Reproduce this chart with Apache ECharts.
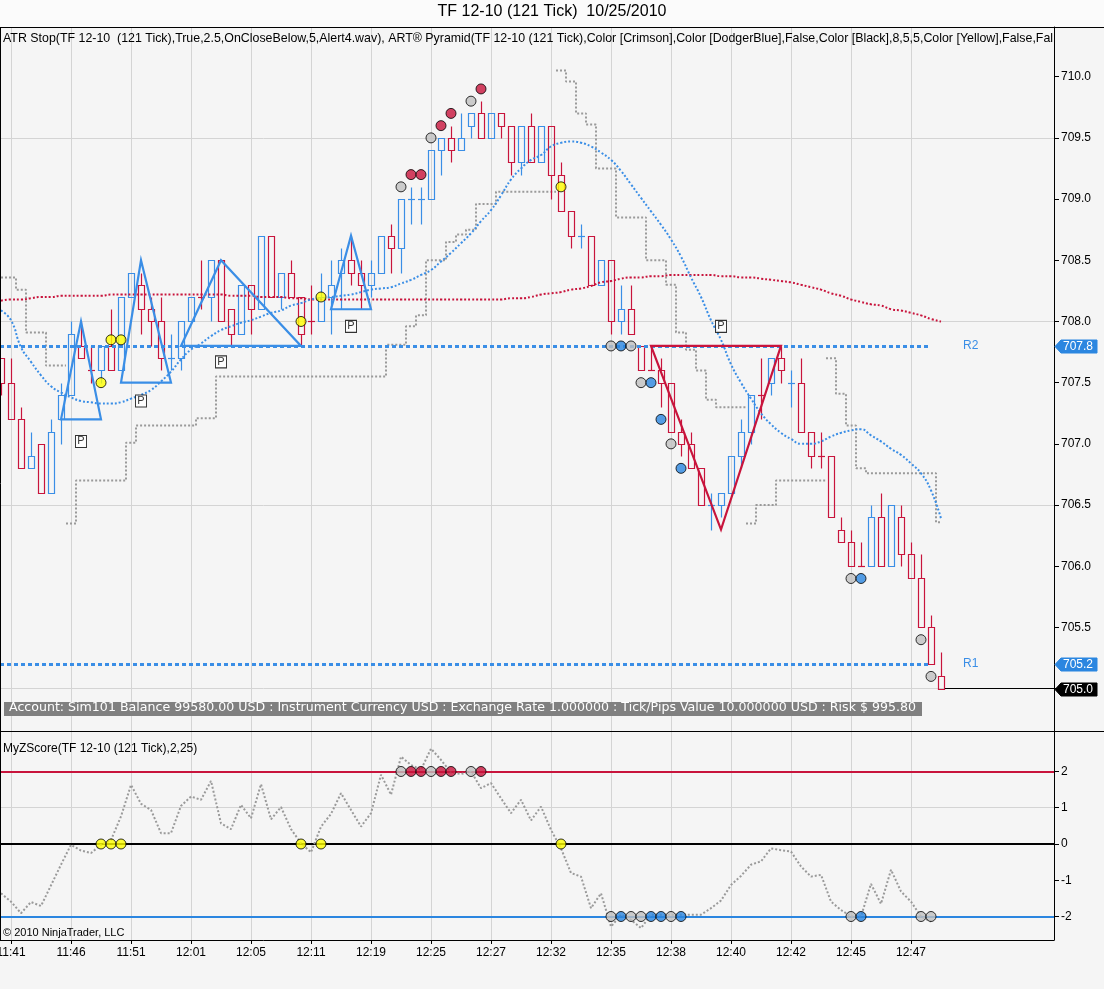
<!DOCTYPE html>
<html><head><meta charset="utf-8">
<script src="https://cdn.jsdelivr.net/npm/echarts@6/dist/echarts.min.js"></script>
<style>html,body{margin:0;padding:0;background:#f5f5f5}#c{width:1104px;height:989px}</style>
</head><body><div id="c"></div><script>
// ---------------- DATA ----------------
const barOpen = [707.7,707.5,707.2,706.8,707.0,706.6,707.2,707.4,707.8,707.6,
707.6,707.8,707.6,708.2,708.3,708.1,708.0,707.7,707.7,708.0,
708.2,708.2,708.5,708.1,707.9,708.3,708.1,708.7,708.2,708.4,
708.2,708.0,708.0,708.2,708.4,708.5,708.4,708.3,708.4,708.7,
708.6,709.0,709.0,709.0,709.4,709.5,709.4,709.6,709.7,709.5,
709.7,709.6,709.3,709.6,709.3,709.6,709.2,708.9,708.7,708.7,
708.3,708.5,708.0,708.1,707.8,707.6,707.6,707.5,707.1,707.0,
706.8,706.5,706.5,706.6,706.9,707.1,707.4,707.5,707.7,707.5,
707.5,707.1,706.9,706.9,706.3,706.2,706.0,706.0,706.4,706.0,
706.4,706.1,705.9,705.5,705.1];
const barHigh = [707.7,707.7,707.3,707.1,707.0,707.2,707.5,708.0,708.0,707.8,
707.8,708.1,708.2,708.4,708.4,708.2,708.2,707.9,708.0,708.2,
708.5,708.5,708.5,708.1,708.3,708.3,708.7,708.7,708.4,708.5,
708.2,708.3,708.4,708.5,708.6,708.7,708.5,708.5,708.7,708.8,
709.0,709.1,709.1,709.4,709.5,709.6,709.7,709.7,709.8,709.7,
709.7,709.6,709.6,709.7,709.6,709.6,709.3,708.9,708.8,708.7,
708.5,708.5,708.3,708.3,707.8,707.8,707.7,707.5,707.2,707.1,
706.8,706.6,706.6,706.9,707.2,707.4,707.7,707.7,707.8,707.6,
707.7,707.1,707.1,706.9,706.4,706.3,706.2,706.5,706.6,706.5,
706.5,706.2,706.1,705.6,705.3];
const barLow = [707.4,707.2,706.8,706.8,706.6,706.6,707.0,707.4,707.7,707.5,
707.5,707.6,707.6,708.2,707.9,707.8,707.6,707.6,707.6,708.0,
708.1,708.0,708.0,707.8,707.9,707.9,708.1,708.2,708.1,708.2,
707.8,707.9,708.0,707.9,708.1,708.3,708.1,708.2,708.4,708.4,
708.4,708.8,708.8,709.0,709.2,709.3,709.4,709.5,709.5,709.5,
709.5,709.2,709.2,709.3,709.3,709.0,708.9,708.6,708.6,708.3,
708.3,707.9,707.9,707.9,707.6,707.6,707.3,707.1,706.9,706.8,
706.5,706.3,706.4,706.6,706.8,707.0,707.2,707.4,707.5,707.3,
707.1,706.8,706.8,706.4,706.2,706.0,706.0,706.0,706.0,706.0,
706.0,705.9,705.5,705.2,705.0];
const barClose = [707.5,707.2,706.8,706.9,706.6,707.1,707.4,707.9,707.7,707.6,
707.8,707.6,708.2,708.4,708.1,708.0,707.7,707.7,708.0,708.2,
708.2,708.5,708.0,707.9,708.3,708.1,708.7,708.2,708.4,708.2,
707.9,708.0,708.2,708.3,708.5,708.4,708.3,708.4,708.7,708.6,
709.0,709.0,709.0,709.4,709.5,709.4,709.5,709.7,709.5,709.7,
709.6,709.3,709.6,709.3,709.6,709.2,708.9,708.7,708.7,708.3,
708.5,708.0,708.1,707.9,707.6,707.6,707.5,707.1,707.0,706.8,
706.5,706.5,706.6,706.9,707.1,707.4,707.4,707.7,707.6,707.5,
707.1,706.9,706.9,706.4,706.2,706.0,706.0,706.4,706.0,706.5,
706.1,705.9,705.5,705.2,705.0];
const upDojiBars = [17,41,42,58,71,79];

const blueAvg = [708.09,708.01,707.79,707.67,707.56,707.47,707.42,707.38,707.35,707.34,
707.33,707.33,707.34,707.37,707.40,707.44,707.51,707.59,707.69,707.77,
707.82,707.88,707.93,707.96,707.99,708.01,708.04,708.07,708.09,708.13,
708.15,708.18,708.19,708.20,708.21,708.22,708.24,708.26,708.27,708.28,
708.31,708.34,708.38,708.42,708.49,708.56,708.64,708.72,708.82,708.91,
709.03,709.16,709.25,709.32,709.36,709.43,709.46,709.47,709.46,709.43,
709.38,709.32,709.23,709.12,709.01,708.90,708.79,708.67,708.53,708.36,
708.20,708.01,707.85,707.65,707.50,707.37,707.25,707.16,707.09,707.04,
707.00,707.00,707.02,707.06,707.09,707.11,707.12,707.07,707.02,706.96,
706.91,706.84,706.76,706.62,706.39];
const redAvg = [708.17,708.18,708.18,708.19,708.20,708.20,708.21,708.21,708.21,708.21,
708.21,708.22,708.22,708.22,708.22,708.22,708.22,708.22,708.22,708.22,
708.22,708.22,708.22,708.21,708.21,708.21,708.20,708.20,708.20,708.19,
708.19,708.18,708.18,708.18,708.18,708.18,708.18,708.18,708.18,708.18,
708.18,708.18,708.18,708.18,708.18,708.18,708.18,708.18,708.18,708.18,
708.18,708.19,708.19,708.20,708.22,708.23,708.24,708.26,708.27,708.29,
708.32,708.33,708.35,708.36,708.36,708.37,708.37,708.38,708.38,708.38,
708.38,708.38,708.37,708.37,708.36,708.36,708.35,708.34,708.33,708.32,
708.30,708.28,708.26,708.23,708.21,708.18,708.16,708.14,708.13,708.10,
708.09,708.07,708.05,708.02,708.00];
const stopAbove = [708.36,708.36,708.26,707.91,707.91,707.64,707.64,null,null,null,
null,null,null,null,null,null,null,null,null,null,
null,null,null,null,null,null,null,null,null,null,
null,null,null,null,null,null,null,null,null,null,
null,null,null,null,null,null,null,null,null,null,
null,null,null,null,null,null,710.05,709.96,709.70,709.61,
709.25,709.25,708.85,708.85,708.85,708.50,708.50,708.30,707.91,707.77,
707.60,707.36,707.30,707.30,707.30,null,null,null,null,null,
null,null,null,707.70,707.41,707.15,706.80,706.76,706.76,706.76,
706.76,706.76,706.76,706.76,706.36];
const stopBelow = [null,null,null,null,null,null,null,706.35,706.70,706.70,
706.70,706.70,706.70,707.01,707.15,707.15,707.15,707.15,707.15,707.15,
707.21,707.21,707.55,707.55,707.55,707.55,707.55,707.55,707.55,707.55,
707.55,707.55,707.55,707.55,707.55,707.55,707.55,707.55,707.55,707.81,
707.81,707.96,708.05,708.50,708.50,708.65,708.71,708.75,708.96,708.96,
709.06,709.06,709.06,709.06,709.06,709.06,null,null,null,null,
null,null,null,null,null,null,null,null,null,null,
null,null,null,null,null,706.35,706.50,706.50,706.70,706.70,
706.70,706.70,706.70,null,null,null,null,null,null,null,
null,null,null,null,null];
const zScore = [-1.36,-1.59,-1.91,-1.60,-1.71,-1.14,-0.57,-0.02,-0.18,-0.25,
-0.02,0.11,0.76,1.63,1.11,0.94,0.30,0.30,1.05,1.31,
1.22,1.74,0.57,0.41,1.08,0.71,1.65,0.68,1.02,0.41,
0.02,-0.23,0.48,0.83,1.40,0.94,0.48,0.85,1.91,1.36,
2.41,2.18,2.05,2.63,2.32,1.97,1.93,2.00,1.54,1.68,
1.26,0.85,1.22,0.65,1.03,0.39,-0.12,-0.80,-0.90,-1.77,
-1.36,-2.28,-1.95,-2.09,-2.32,-1.95,-1.95,-1.95,-1.95,-1.95,
-1.95,-1.77,-1.56,-1.13,-0.88,-0.57,-0.48,-0.12,-0.17,-0.21,
-0.62,-0.90,-0.85,-1.59,-1.82,-2.00,-2.00,-1.10,-1.65,-0.71,
-1.31,-1.59,-2.00,-2.14,null];

// signal dots: 0 yellow, 1 gray, 2 crimson, 3 blue
const sigBars   = [10,11,12,30,32,40,41,42,43,44,45,47,48,56,61,62,63,64,65,66,67,68,85,86,92,93];
const sigPrices = [707.5,707.85,707.85,708.0,708.2,709.1,709.2,709.2,709.5,709.6,709.7,709.8,709.9,709.1,707.8,707.8,707.8,707.5,707.5,707.2,707.0,706.8,705.9,705.9,705.4,705.1];
const sigKinds  = [0,0,0,0,0,1,2,2,1,2,2,1,2,0,1,3,1,1,3,3,1,3,1,3,1,1];
const sigZLevel = [0,0,0,0,0,2,2,2,2,2,2,2,2,0,-2,-2,-2,-2,-2,-2,-2,-2,-2,-2,-2,-2];

// pyramids: left base, apex, right base
const triLeftBar   = [6,12,18,33,65];
const triBasePrice = [707.2,707.5,707.8,708.1,707.8];
const triApexBar   = [8,14,22,35,72];
const triApexPrice = [708.0,708.5,708.5,708.7,706.3];
const triRightBar  = [10,17,30,37,78];
const triKind      = [0,0,0,0,1];
const pBars   = [8,14,22,35,72];
const pPrices = [707.02,707.35,707.67,707.96,707.96];

const levelR2 = 707.8, levelR1 = 705.2, lastPrice = 705.0, levelEndBar = 93;
const tagPrices = [707.8,705.2,705.0];
const tagKinds  = [0,0,1];

const tickBars   = [1,7,13,19,25,31,37,43,49,55,61,67,73,79,85,91];
const tickLabels = ['11:41','11:46','11:51','12:01','12:05','12:11','12:19','12:25','12:27','12:32','12:35','12:38','12:40','12:42','12:45','12:47'];
const priceTicks = [705.0,705.5,706.0,706.5,707.0,707.5,708.0,708.5,709.0,709.5,710.0];
const priceGrid  = [705.0,706.5,708.0,709.5];
const zTicks = [-2,-1,0,1,2];
const zGrid = [1];

// ---------------- STYLE ----------------
const BLUE = '#3a8ee6', RED = '#c8143c', GRAY = '#9a9a9a', GRID = '#d4d4d4';
const DOT = ['#ffff00','#c0c0c0','#c8143c','#2b86e0'];
const FONT = "'Liberation Sans', Arial, sans-serif";
const WIDEFONT = "'DejaVu Sans', Verdana, sans-serif";
const XMIN = -0.1, XMAX = 105.3;

const candleData = barOpen.map((o,i)=>{
  const c = barClose[i];
  const up = c > o ? 1 : (c < o ? 0 : (upDojiBars.indexOf(i) >= 0 ? 1 : 0));
  return [i, o, barHigh[i], barLow[i], c, up];
});

function renderCandle(params, api){
  const i=api.value(0), o=api.value(1), h=api.value(2), l=api.value(3), c=api.value(4), up=api.value(5);
  const pO=api.coord([i,o]), pC=api.coord([i,c]), pH=api.coord([i,h]), pL=api.coord([i,l]);
  const x=Math.round(pO[0])+0.5;
  const top=Math.round(Math.min(pO[1],pC[1]))+0.5, bot=Math.round(Math.max(pO[1],pC[1]))+0.5;
  const yH=Math.round(pH[1])+0.5, yL=Math.round(pL[1])+0.5;
  const col = up ? BLUE : RED;
  const st={stroke:col,lineWidth:1.2,fill:null};
  const ch=[];
  if(yH<top) ch.push({type:'line',shape:{x1:x,y1:yH,x2:x,y2:top},style:st});
  if(yL>bot) ch.push({type:'line',shape:{x1:x,y1:bot,x2:x,y2:yL},style:st});
  if(bot-top<1) ch.push({type:'line',shape:{x1:x-3.5,y1:top,x2:x+3.5,y2:top},style:st});
  else ch.push({type:'rect',shape:{x:x-3,y:top,width:6,height:bot-top},style:{stroke:col,lineWidth:1.2,fill:'rgba(0,0,0,0)'}});
  return {type:'group',children:ch};
}

const triData = triLeftBar.map((b,k)=>[b,triBasePrice[k],triApexBar[k],triApexPrice[k],triRightBar[k],triKind[k]]);
function renderTri(params, api){
  const a=api.coord([api.value(0),api.value(1)]);
  const b=api.coord([api.value(2),api.value(3)]);
  const c=api.coord([api.value(4),api.value(1)]);
  return {type:'polygon',shape:{points:[a,b,c]},style:{stroke:api.value(5)?RED:BLUE,lineWidth:2.2,fill:null}};
}
function renderTag(params, api){
  const p=api.coord([XMAX, api.value(0)]);
  const x=p[0], y=Math.round(p[1])+0.5;
  const fill = api.value(1) ? '#000' : '#2b86e0';
  return {type:'group',children:[
    {type:'polygon',shape:{points:[[x+1,y],[x+7,y-6.5],[x+43,y-6.5],[x+43,y+6.5],[x+7,y+6.5]]},style:{fill:fill,stroke:fill}},
    {type:'text',style:{text:api.value(0).toFixed(1),x:x+9,y:y+0.5,fill:'#fff',font:'12px '+FONT,textVerticalAlign:'middle'}}
  ]};
}

const vGrid = tickBars.map(b=>({xAxis:b}));
const hGridMain = priceGrid.map(p=>({yAxis:p}));
const hGridZ = zGrid.map(p=>({yAxis:p}));

const option = {
  backgroundColor:'#f5f5f5',
  animation:false,
  textStyle:{fontFamily:FONT},
  grid:[
    {left:0, width:1054, top:27, height:704, containLabel:false, outerBoundsMode:'none'},
    {left:0, width:1054, top:731, height:209, containLabel:false, outerBoundsMode:'none'}
  ],
  xAxis:[
    {gridIndex:0,type:'value',min:XMIN,max:XMAX,show:false},
    {gridIndex:1,type:'value',min:XMIN,max:XMAX,
      axisLine:{show:true,onZero:false,lineStyle:{color:'#000',width:1}},
      axisTick:{show:true,customValues:tickBars,length:4,lineStyle:{color:'#000'}},
      axisLabel:{show:true,customValues:tickBars,color:'#000',fontSize:12,fontFamily:FONT,margin:7,hideOverlap:false,
        formatter:v=>{const k=tickBars.indexOf(Math.round(v));return k>=0?tickLabels[k]:'';}},
      splitLine:{show:false}}
  ],
  yAxis:[
    {gridIndex:0,type:'value',position:'right',min:704.654,max:710.406,
      axisLine:{show:true,onZero:false,lineStyle:{color:'#000'}},
      axisTick:{show:true,customValues:priceTicks,length:5,lineStyle:{color:'#000'}},
      axisLabel:{show:true,customValues:priceTicks,color:'#000',fontSize:12,fontFamily:FONT,margin:7,formatter:v=>v.toFixed(1)},
      splitLine:{show:false}},
    {gridIndex:1,type:'value',position:'right',min:-2.648,max:3.117,
      axisLine:{show:true,onZero:false,lineStyle:{color:'#000'}},
      axisTick:{show:true,customValues:zTicks,length:5,lineStyle:{color:'#000'}},
      axisLabel:{show:true,customValues:zTicks,color:'#000',fontSize:12,fontFamily:FONT,margin:7,formatter:v=>String(v)},
      splitLine:{show:false}}
  ],
  series:[
    // ATR stop (grid lines carried as mark lines underneath everything)
    {type:'line',name:'stopAbove',xAxisIndex:0,yAxisIndex:0,z:2,step:'middle',showSymbol:false,connectNulls:false,
      data:stopAbove.map((v,i)=>[i,v]),lineStyle:{color:GRAY,width:2,type:[2,2]},
      markLine:{z:1,silent:true,symbol:['none','none'],label:{show:false},lineStyle:{color:GRID,width:1,type:'solid'},
        data:vGrid.concat(hGridMain)}},
    {type:'line',name:'stopBelow',xAxisIndex:0,yAxisIndex:0,z:2,step:'middle',showSymbol:false,connectNulls:false,
      data:stopBelow.map((v,i)=>[i,v]),lineStyle:{color:GRAY,width:2,type:[2,2]}},
    // candles
    {type:'custom',name:'bars',xAxisIndex:0,yAxisIndex:0,z:3,renderItem:renderCandle,data:candleData,clip:true},
    // averages
    {type:'line',name:'redAvg',xAxisIndex:0,yAxisIndex:0,z:4,showSymbol:false,smooth:true,
      data:redAvg.map((v,i)=>[i,v]),lineStyle:{color:RED,width:2,type:[2,2]},
      markLine:{z:4,silent:true,symbol:['none','none'],
        data:[
          [{coord:[XMIN,levelR2],lineStyle:{color:BLUE,width:3,type:[4,3]},label:{show:true,formatter:'R2',position:'end',distance:32,color:BLUE,fontSize:12,fontFamily:FONT}},{coord:[levelEndBar,levelR2]}],
          [{coord:[XMIN,levelR1],lineStyle:{color:BLUE,width:3,type:[4,3]},label:{show:true,formatter:'R1',position:'end',distance:32,color:BLUE,fontSize:12,fontFamily:FONT}},{coord:[levelEndBar,levelR1]}],
          [{coord:[94.4,lastPrice],lineStyle:{color:'#000',width:1,type:'solid'},label:{show:false}},{coord:[XMAX,lastPrice]}]
        ]}},
    {type:'line',name:'blueAvg',xAxisIndex:0,yAxisIndex:0,z:4,showSymbol:false,smooth:true,
      data:blueAvg.map((v,i)=>[i,v]),lineStyle:{color:BLUE,width:2,type:[2,2]}},
    // pyramids
    {type:'custom',name:'pyramids',xAxisIndex:0,yAxisIndex:0,z:5,renderItem:renderTri,data:triData},
    // P markers
    {type:'scatter',name:'P',xAxisIndex:0,yAxisIndex:0,z:6,symbol:'rect',symbolSize:[11,12],
      data:pBars.map((b,k)=>[b,pPrices[k]]),
      itemStyle:{color:'#ffffff',borderColor:'#000',borderWidth:1},
      label:{show:true,position:'inside',formatter:'P',color:'#000',fontSize:11,fontFamily:FONT}},
    // signal dots main
    {type:'scatter',name:'sig',xAxisIndex:0,yAxisIndex:0,z:7,symbol:'circle',symbolSize:10,
      data:sigBars.map((b,k)=>[b,sigPrices[k],sigKinds[k]]),
      itemStyle:{color:p=>DOT[p.value[2]],borderColor:'#000',borderWidth:1}},
    // price tags
    {type:'custom',name:'tags',xAxisIndex:0,yAxisIndex:0,z:8,clip:false,renderItem:renderTag,
      data:tagPrices.map((p,k)=>[p,tagKinds[k]])},
    // z-score
    {type:'line',name:'zscore',xAxisIndex:1,yAxisIndex:1,z:3,showSymbol:false,connectNulls:false,
      data:zScore.map((v,i)=>[i,v]),lineStyle:{color:GRAY,width:2,type:[2,2]},
      markLine:{z:2,silent:true,symbol:['none','none'],label:{show:false},
        data:vGrid.map(d=>Object.assign({lineStyle:{color:GRID,width:1,type:'solid'}},d))
          .concat(hGridZ.map(d=>Object.assign({lineStyle:{color:GRID,width:1,type:'solid'}},d)))
          .concat([
            {yAxis:2,lineStyle:{color:RED,width:2,type:'solid'}},
            {yAxis:0,lineStyle:{color:'#000',width:2,type:'solid'}},
            {yAxis:-2,lineStyle:{color:'#2b86e0',width:2,type:'solid'}}
          ])}},
    {type:'scatter',name:'zsig',xAxisIndex:1,yAxisIndex:1,z:7,symbol:'circle',symbolSize:10,
      data:sigBars.map((b,k)=>[b,sigZLevel[k],sigKinds[k]]),
      itemStyle:{color:p=>DOT[p.value[2]],borderColor:'#000',borderWidth:1}}
  ],
  graphic:[
    {type:'rect',left:0,top:0,shape:{width:1104,height:27},style:{fill:'#fbfbfb'},z:0,silent:true},
    {type:'text',left:'center',top:4,style:{text:'TF 12-10 (121 Tick)  10/25/2010',font:'16px '+FONT,fill:'#000'},silent:true},
    {type:'line',shape:{x1:0,y1:27.5,x2:1104,y2:27.5},style:{stroke:'#000',lineWidth:1},silent:true,z:10},
    {type:'line',shape:{x1:0,y1:731.5,x2:1104,y2:731.5},style:{stroke:'#000',lineWidth:1},silent:true,z:10},
    {type:'line',shape:{x1:0.5,y1:27,x2:0.5,y2:940},style:{stroke:'#000',lineWidth:1},silent:true,z:10},
    {type:'text',left:3,top:33,style:{text:'ATR Stop(TF 12-10  (121 Tick),True,2.5,OnCloseBelow,5,Alert4.wav), ART\u00ae Pyramid(TF 12-10 (121 Tick),Color [Crimson],Color [DodgerBlue],False,Color [Black],8,5,5,Color [Yellow],False,Fal',
      font:'12.4px '+FONT,fill:'#000',width:1064,overflow:'truncate',ellipsis:''},silent:true,z:10},
    {type:'rect',left:4,top:702,shape:{width:918,height:14},style:{fill:'#808080'},silent:true,z:10},
    {type:'text',left:9,top:701,style:{text:'Account: Sim101 Balance 99580.00 USD : Instrument Currency USD : Exchange Rate 1.000000 : Tick/Pips Value 10.000000 USD : Risk $ 995.80',
      font:'12.6px '+WIDEFONT,fill:'#fff',width:912,overflow:'truncate',ellipsis:''},silent:true,z:11},
    {type:'text',left:3,top:743,style:{text:'MyZScore(TF 12-10 (121 Tick),2,25)',font:'12px '+FONT,fill:'#000'},silent:true,z:10},
    {type:'text',left:3,top:927,style:{text:'\u00a9 2010 NinjaTrader, LLC',font:'11px '+FONT,fill:'#000'},silent:true,z:10}
  ]
};
const chart = echarts.init(document.getElementById('c'));
chart.setOption(option);
</script></body></html>
